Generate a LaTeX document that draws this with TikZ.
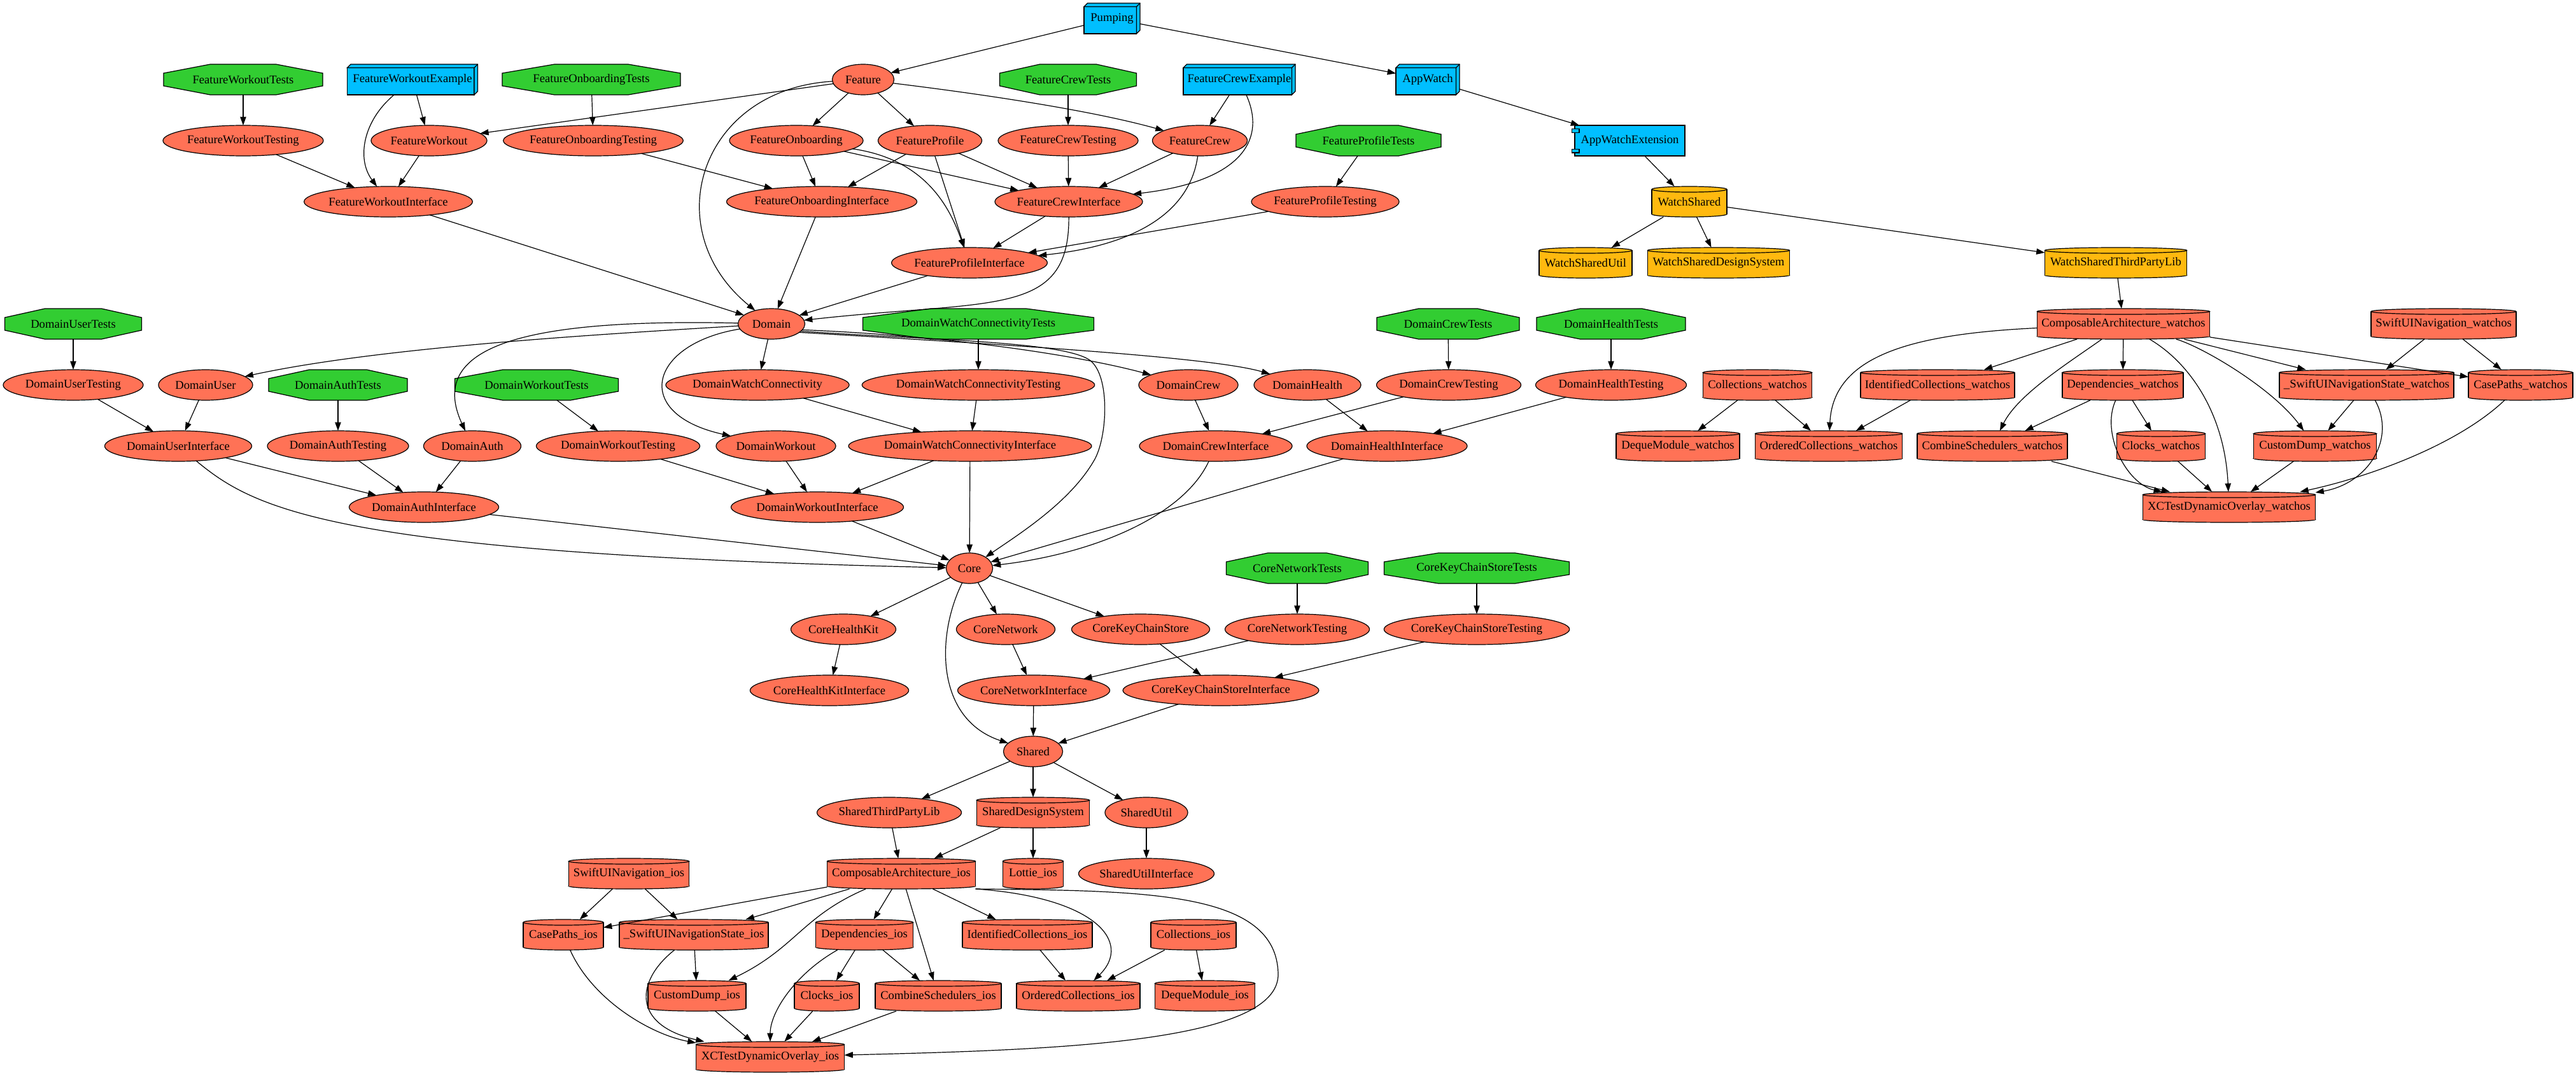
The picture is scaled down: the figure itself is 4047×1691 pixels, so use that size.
\documentclass[tikz,border=0pt]{standalone}
\usepackage{fontspec}
\setmainfont{Liberation Serif}
\usetikzlibrary{arrows.meta,shapes.geometric}
\definecolor{coral}{HTML}{FF7256}
\definecolor{lgreen}{HTML}{32CD32}
\definecolor{skyb}{HTML}{00BFFF}
\definecolor{gold}{HTML}{FFB90F}
\tikzset{
  nodeline/.style={line width=0.9pt},
  base/.style={rectangle, inner sep=0pt, outer sep=0pt, minimum height=36pt, font=\fontsize{14}{16}\selectfont},
  ell/.style={base, ellipse, draw, fill=coral, nodeline},
  e/.style={-{Triangle[length=10pt,width=7pt]}, line width=0.9pt},
}
% ellipse node: name, x, y, width(px), text
\newcommand\ellnode[5]{\node[ell, minimum width=#4*0.75pt] (#1) at (#2,#3) {#5};}
% octagon node
\newcommand\octnode[5]{%
  \filldraw[fill=lgreen, nodeline] ({#2-#4/2},{#3-10}) -- ({#2-#4/2+0.2929*#4},{#3-24}) -- ({#2+#4/2-0.2929*#4},{#3-24}) -- ({#2+#4/2},{#3-10}) -- ({#2+#4/2},{#3+10}) -- ({#2+#4/2-0.2929*#4},{#3+24}) -- ({#2-#4/2+0.2929*#4},{#3+24}) -- ({#2-#4/2},{#3+10}) -- cycle;
  \node[base, minimum width=#4*0.75pt] (#1) at (#2,#3) {#5};}
% cylinder node: name, x, y, w, text, colour
\newcommand\cylnode[6]{%
  \filldraw[fill=#6, nodeline] (#2,{#3+19.5}) ellipse [x radius={#4*0.375pt}, y radius=3.375pt];
  \fill[#6] ({#2-#4/2},{#3-19.5}) rectangle ({#2+#4/2},{#3+19.5});
  \draw[nodeline] ({#2-#4/2},{#3-19.5}) -- ({#2-#4/2},{#3+19.5}) ({#2+#4/2},{#3-19.5}) -- ({#2+#4/2},{#3+19.5});
  \filldraw[fill=#6, nodeline] (#2,{#3-19.5}) ellipse [x radius={#4*0.375pt}, y radius=3.375pt];
  \node[base, minimum width=#4*0.75pt] (#1) at (#2,#3) {#5};}
% box3d node: name, x, y, w, text
\newcommand\boxnode[5]{%
  \filldraw[fill=skyb, nodeline] ({#2-#4/2},{#3-18.5}) rectangle ({#2+#4/2-5.5},{#3+24});
  \filldraw[fill=skyb, nodeline] ({#2-#4/2},{#3-18.5}) -- ({#2-#4/2+5.5},{#3-24}) -- ({#2+#4/2},{#3-24}) -- ({#2+#4/2},{#3+18.5}) -- ({#2+#4/2-5.5},{#3+24}) -- ({#2+#4/2-5.5},{#3-18.5}) -- cycle;
  \draw[nodeline] ({#2+#4/2-5.5},{#3-18.5}) -- ({#2+#4/2},{#3-24});
  \node[base, minimum width=#4*0.75pt] (#1) at (#2,#3) {#5};}
\begin{document}
\begin{tikzpicture}[x=0.75pt,y=-0.75pt]
\fill[white] (0,0) rectangle (4047,1691);
\useasboundingbox (0,0) rectangle (4047,1691);

% ---------------- boxes (apps / examples)
\boxnode{Pumping}{1747}{29}{88}{Pumping}
\boxnode{FWExample}{648}{125}{205}{FeatureWorkoutExample}
\boxnode{FCExample}{1947}{125}{176}{FeatureCrewExample}
\boxnode{AppWatch}{2243}{125}{100}{AppWatch}
% component
\filldraw[fill=skyb, nodeline] (2474,197) rectangle (2647,245);
\filldraw[fill=skyb, nodeline] (2469.5,202.5) rectangle (2481,208.3);
\filldraw[fill=skyb, nodeline] (2469.5,234.5) rectangle (2481,240);
\node[base, minimum width=173*0.75pt] (AWE) at (2560.5,221) {AppWatchExtension};

% ---------------- test octagons
\octnode{FWTests}{382}{125}{250}{FeatureWorkoutTests}
\octnode{FOTests}{929}{125}{280}{FeatureOnboardingTests}
\octnode{FCTests}{1678}{125}{215}{FeatureCrewTests}
\octnode{FPTests}{2150}{221}{228}{FeatureProfileTests}
\octnode{DUTests}{115}{509}{215}{DomainUserTests}
\octnode{DWCTests}{1537}{509}{363}{DomainWatchConnectivityTests}
\octnode{DCTests}{2275}{509}{224}{DomainCrewTests}
\octnode{DHTests}{2531}{509}{234}{DomainHealthTests}
\octnode{DATests}{531}{605}{218}{DomainAuthTests}
\octnode{DWTests}{843}{605}{257}{DomainWorkoutTests}
\octnode{CNTests}{2038}{893}{223}{CoreNetworkTests}
\octnode{CKSTests}{2320}{893}{291}{CoreKeyChainStoreTests}

% ---------------- ellipses
\ellnode{Feature}{1356}{125}{97}{Feature}
\ellnode{FWTesting}{382}{221}{252}{FeatureWorkoutTesting}
\ellnode{FW}{674}{221}{182}{FeatureWorkout}
\ellnode{FOTesting}{932}{221}{282}{FeatureOnboardingTesting}
\ellnode{FO}{1251}{221}{210}{FeatureOnboarding}
\ellnode{FP}{1461}{221}{163}{FeatureProfile}
\ellnode{FCTesting}{1678}{221}{220}{FeatureCrewTesting}
\ellnode{FC}{1885}{221}{149}{FeatureCrew}
\ellnode{FWI}{610}{317}{264}{FeatureWorkoutInterface}
\ellnode{FOI}{1291}{317}{294}{FeatureOnboardingInterface}
\ellnode{FCI}{1679}{317}{232}{FeatureCrewInterface}
\ellnode{FPTesting}{2082}{317}{232}{FeatureProfileTesting}
\ellnode{FPI}{1523}{413}{244}{FeatureProfileInterface}
\ellnode{Domain}{1212}{509}{105}{Domain}
\ellnode{DUTesting}{115}{605}{220}{DomainUserTesting}
\ellnode{DU}{323}{605}{148}{DomainUser}
\ellnode{DWC}{1190}{605}{287}{DomainWatchConnectivity}
\ellnode{DWCTesting}{1537}{605}{355}{DomainWatchConnectivityTesting}
\ellnode{DC}{1867}{605}{156}{DomainCrew}
\ellnode{DH}{2054}{605}{168}{DomainHealth}
\ellnode{DCTesting}{2276}{605}{227}{DomainCrewTesting}
\ellnode{DHTesting}{2531}{605}{237}{DomainHealthTesting}
\ellnode{DUI}{280}{701}{231}{DomainUserInterface}
\ellnode{DATesting}{531}{701}{222}{DomainAuthTesting}
\ellnode{DA}{742}{701}{153}{DomainAuth}
\ellnode{DWTesting}{971}{701}{257}{DomainWorkoutTesting}
\ellnode{DW}{1219}{701}{188}{DomainWorkout}
\ellnode{DWCI}{1524}{701}{369}{DomainWatchConnectivityInterface}
\ellnode{DCI}{1910}{701}{240}{DomainCrewInterface}
\ellnode{DHI}{2179}{701}{252}{DomainHealthInterface}
\ellnode{DAI}{666}{797}{235}{DomainAuthInterface}
\ellnode{DWI}{1284}{797}{271}{DomainWorkoutInterface}
\ellnode{Core}{1523}{893}{73}{Core}
\ellnode{CHK}{1325}{989}{165}{CoreHealthKit}
\ellnode{CN}{1580}{989}{155}{CoreNetwork}
\ellnode{CKS}{1792}{989}{217}{CoreKeyChainStore}
\ellnode{CNTesting}{2038}{989}{227}{CoreNetworkTesting}
\ellnode{CKSTesting}{2320}{989}{289}{CoreKeyChainStoreTesting}
\ellnode{CHKI}{1303}{1085}{249}{CoreHealthKitInterface}
\ellnode{CNI}{1624}{1085}{239}{CoreNetworkInterface}
\ellnode{CKSI}{1918}{1085}{301}{CoreKeyChainStoreInterface}
\ellnode{Shared}{1623}{1181}{93}{Shared}
\ellnode{STPL}{1397}{1277}{227}{SharedThirdPartyLib}
\ellnode{SU}{1801}{1277}{130}{SharedUtil}
\ellnode{SUI}{1801}{1373}{213}{SharedUtilInterface}

% ---------------- cylinders
\cylnode{WatchShared}{2654}{317}{118}{WatchShared}{gold}
\cylnode{WSUtil}{2491}{413}{146}{WatchSharedUtil}{gold}
\cylnode{WSDS}{2700}{413}{223}{WatchSharedDesignSystem}{gold}
\cylnode{WSTPL}{3324}{413}{223}{WatchSharedThirdPartyLib}{gold}
\cylnode{CAw}{3336}{509}{271}{ComposableArchitecture\_watchos}{coral}
\cylnode{SUINw}{3839}{509}{228}{SwiftUINavigation\_watchos}{coral}
\cylnode{Colw}{2761}{605}{171}{Collections\_watchos}{coral}
\cylnode{ICw}{3044}{605}{242}{IdentifiedCollections\_watchos}{coral}
\cylnode{Depw}{3335}{605}{190}{Dependencies\_watchos}{coral}
\cylnode{SUINSw}{3718}{605}{274}{\_SwiftUINavigationState\_watchos}{coral}
\cylnode{CPw}{3960}{605}{164}{CasePaths\_watchos}{coral}
\cylnode{DMw}{2636}{701}{194}{DequeModule\_watchos}{coral}
\cylnode{OCw}{2873}{701}{231}{OrderedCollections\_watchos}{coral}
\cylnode{CSw}{3130}{701}{236}{CombineSchedulers\_watchos}{coral}
\cylnode{Clkw}{3395}{701}{139}{Clocks\_watchos}{coral}
\cylnode{CDw}{3637}{701}{193}{CustomDump\_watchos}{coral}
\cylnode{XCw}{3502}{797}{271}{XCTestDynamicOverlay\_watchos}{coral}
\cylnode{SDS}{1623}{1277}{177}{SharedDesignSystem}{coral}
\cylnode{CAi}{1416}{1373}{233}{ComposableArchitecture\_ios}{coral}
\cylnode{Lottie}{1623}{1373}{95}{Lottie\_ios}{coral}
\cylnode{SUINi}{988}{1373}{189}{SwiftUINavigation\_ios}{coral}
\cylnode{CPi}{885}{1469}{126}{CasePaths\_ios}{coral}
\cylnode{SUINSi}{1090}{1469}{234}{\_SwiftUINavigationState\_ios}{coral}
\cylnode{Depi}{1358}{1469}{153}{Dependencies\_ios}{coral}
\cylnode{ICi}{1614}{1469}{204}{IdentifiedCollections\_ios}{coral}
\cylnode{Coli}{1875}{1469}{134}{Collections\_ios}{coral}
\cylnode{CDi}{1095}{1565}{154}{CustomDump\_ios}{coral}
\cylnode{Clki}{1299}{1565}{102}{Clocks\_ios}{coral}
\cylnode{CSi}{1474}{1565}{198}{CombineSchedulers\_ios}{coral}
\cylnode{OCi}{1694}{1565}{194}{OrderedCollections\_ios}{coral}
\cylnode{DMi}{1893}{1565}{157}{DequeModule\_ios}{coral}
\cylnode{XCi}{1210}{1661}{233}{XCTestDynamicOverlay\_ios}{coral}

% ================= edges
\draw[e] (Pumping) -- (Feature);
\draw[e] (Pumping) -- (AppWatch);
\draw[e] (AppWatch) -- (AWE);
\draw[e] (AWE) -- (WatchShared);
\draw[e] (WatchShared) -- (WSUtil);
\draw[e] (WatchShared) -- (WSDS);
\draw[e] (WatchShared) -- (WSTPL);
\draw[e] (WSTPL) -- (CAw);

\draw[e] (Feature) -- (FW);
\draw[e] (Feature) -- (FO);
\draw[e] (Feature) -- (FP);
\draw[e] (Feature) .. controls (1560,150) and (1720,175) .. (FC);
\draw[e] (Feature) .. controls (1100,140) and (1030,360) .. (Domain);

\draw[e] (FWExample) -- (FW);
\draw[e] (FWExample) .. controls (570,190) and (560,250) .. (FWI);
\draw[e] (FWTests) -- (FWTesting);
\draw[e] (FWTesting) -- (FWI);
\draw[e] (FW) -- (FWI);
\draw[e] (FWI) -- (Domain);
\draw[e] (FOTests) -- (FOTesting);
\draw[e] (FOTesting) -- (FOI);
\draw[e] (FO) -- (FOI);
\draw[e] (FO) -- (FCI);
\draw[e] (FO) .. controls (1450,250) and (1490,320) .. (FPI);
\draw[e] (FP) -- (FOI);
\draw[e] (FP) -- (FPI);
\draw[e] (FP) -- (FCI);
\draw[e] (FOI) -- (Domain);
\draw[e] (FCTests) -- (FCTesting);
\draw[e] (FCTesting) -- (FCI);
\draw[e] (FC) -- (FCI);
\draw[e] (FC) .. controls (1870,330) and (1790,385) .. (FPI);
\draw[e] (FCExample) -- (FC);
\draw[e] (FCExample) .. controls (1990,220) and (1950,285) .. (FCI);
\draw[e] (FCI) -- (FPI);
\draw[e] (FCI) .. controls (1680,500) and (1560,470) .. (Domain);
\draw[e] (FPTests) -- (FPTesting);
\draw[e] (FPTesting) -- (FPI);
\draw[e] (FPI) -- (Domain);

\draw[e] (Domain) .. controls (950,525) and (600,545) .. (DU);
\draw[e] (Domain) .. controls (820,500) and (670,545) .. (DA);
\draw[e] (Domain) .. controls (1020,540) and (990,650) .. (DW);
\draw[e] (Domain) -- (DWC);
\draw[e] (Domain.-11) .. controls (1500,528) and (1700,560) .. (DC);
\draw[e] (Domain.-17) .. controls (1550,540) and (1900,560) .. (DH);
\draw[e] (Domain.-14) .. controls (1450,534) and (1670,536) .. (1712,566) .. controls (1745,590) and (1740,690) .. (1718,725) .. controls (1680,790) and (1600,840) .. (Core);

\draw[e] (DUTests) -- (DUTesting);
\draw[e] (DUTesting) -- (DUI);
\draw[e] (DU) -- (DUI);
\draw[e] (DUI) -- (DAI);
\draw[e] (DUI) .. controls (400,800) and (520,870) .. (Core);
\draw[e] (DATests) -- (DATesting);
\draw[e] (DATesting) -- (DAI);
\draw[e] (DA) -- (DAI);
\draw[e] (DAI) -- (Core);
\draw[e] (DWTests) -- (DWTesting);
\draw[e] (DWTesting) -- (DWI);
\draw[e] (DW) -- (DWI);
\draw[e] (DWCTests) -- (DWCTesting);
\draw[e] (DWC) -- (DWCI);
\draw[e] (DWCTesting) -- (DWCI);
\draw[e] (DWCI) -- (DWI);
\draw[e] (DWCI) -- (Core);
\draw[e] (DWI) -- (Core);
\draw[e] (DCTests) -- (DCTesting);
\draw[e] (DCTesting) -- (DCI);
\draw[e] (DC) -- (DCI);
\draw[e] (DCI) .. controls (1860,810) and (1720,870) .. (Core);
\draw[e] (DHTests) -- (DHTesting);
\draw[e] (DHTesting) -- (DHI);
\draw[e] (DH) -- (DHI);
\draw[e] (DHI) -- (Core);

\draw[e] (Core) -- (CHK);
\draw[e] (Core) -- (CN);
\draw[e] (Core) -- (CKS);
\draw[e] (Core) .. controls (1470,1000) and (1470,1130) .. (Shared);
\draw[e] (CHK) -- (CHKI);
\draw[e] (CN) -- (CNI);
\draw[e] (CKS) -- (CKSI);
\draw[e] (CNTests) -- (CNTesting);
\draw[e] (CNTesting) -- (CNI);
\draw[e] (CKSTests) -- (CKSTesting);
\draw[e] (CKSTesting) -- (CKSI);
\draw[e] (CNI) -- (Shared);
\draw[e] (CKSI) -- (Shared);

\draw[e] (Shared) -- (STPL);
\draw[e] (Shared) -- (SDS);
\draw[e] (Shared) -- (SU);
\draw[e] (SU) -- (SUI);
\draw[e] (STPL) -- (CAi);
\draw[e] (SDS) -- (CAi);
\draw[e] (SDS) -- (Lottie);

\draw[e] (CAi) -- (CPi);
\draw[e] (CAi) -- (SUINSi);
\draw[e] (CAi) .. controls (1260,1440) and (1250,1490) .. (CDi);
\draw[e] (CAi) -- (Depi);
\draw[e] (CAi) -- (CSi);
\draw[e] (CAi) -- (ICi);
\draw[e] (CAi.south east) .. controls (1720,1410) and (1780,1480) .. (OCi);
\draw[e] (CAi.south east) .. controls (1800,1400) and (2005,1400) .. (2008,1530) .. controls (2011,1640) and (1650,1650) .. (XCi);
\draw[e] (SUINi) -- (CPi);
\draw[e] (SUINi) -- (SUINSi);
\draw[e] (SUINSi) -- (CDi);
\draw[e] (SUINSi) .. controls (1000,1540) and (990,1610) .. (XCi);
\draw[e] (CPi) .. controls (930,1570) and (1020,1625) .. (XCi);
\draw[e] (Depi) -- (Clki);
\draw[e] (Depi) -- (CSi);
\draw[e] (Depi) .. controls (1250,1530) and (1210,1590) .. (XCi);
\draw[e] (CDi) -- (XCi);
\draw[e] (Clki) -- (XCi);
\draw[e] (CSi) -- (XCi);
\draw[e] (ICi) -- (OCi);
\draw[e] (Coli) -- (OCi);
\draw[e] (Coli) -- (DMi);

\draw[e] (CAw) .. controls (3000,525) and (2880,560) .. (OCw);
\draw[e] (CAw) -- (ICw);
\draw[e] (CAw) .. controls (3250,570) and (3170,620) .. (CSw);
\draw[e] (CAw) -- (Depw);
\draw[e] (CAw) .. controls (3440,570) and (3495,650) .. (XCw);
\draw[e] (CAw) .. controls (3460,545) and (3570,610) .. (CDw);
\draw[e] (CAw) -- (SUINSw);
\draw[e] (CAw) -- (CPw);
\draw[e] (Colw) -- (DMw);
\draw[e] (Colw) -- (OCw);
\draw[e] (ICw) -- (OCw);
\draw[e] (Depw) -- (CSw);
\draw[e] (Depw) -- (Clkw);
\draw[e] (Depw) .. controls (3300,680) and (3340,760) .. (XCw);
\draw[e] (SUINSw) -- (CDw);
\draw[e] (SUINSw) .. controls (3765,690) and (3720,760) .. (XCw);
\draw[e] (CPw) .. controls (3860,700) and (3720,750) .. (XCw);
\draw[e] (CSw) -- (XCw);
\draw[e] (Clkw) -- (XCw);
\draw[e] (CDw) -- (XCw);
\draw[e] (SUINw) -- (SUINSw);
\draw[e] (SUINw) -- (CPw);
\end{tikzpicture}
\end{document}
